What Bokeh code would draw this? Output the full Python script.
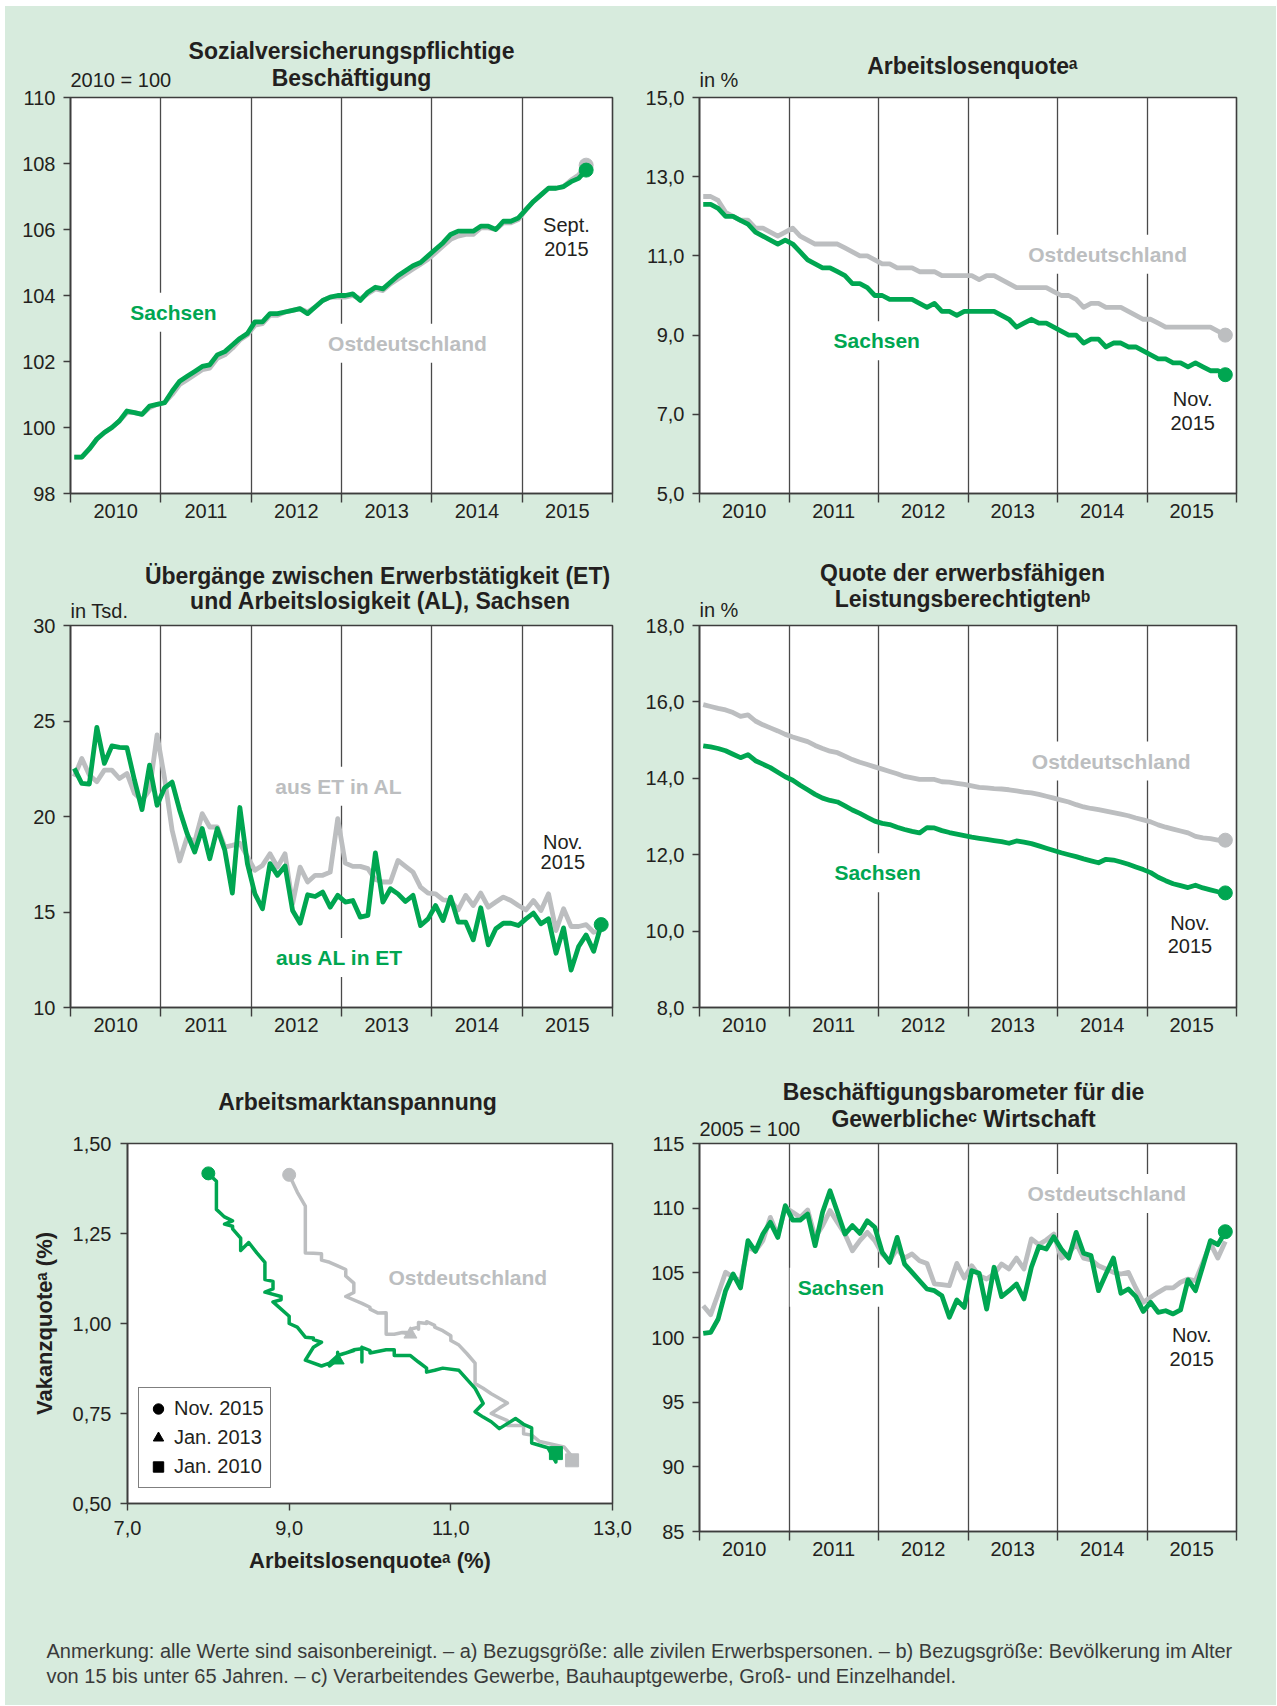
import pandas as pd
from bokeh.plotting import figure
from bokeh.models import (Range1d, FixedTicker, Label, Legend, LegendItem,
                          CustomJSTickFormatter)
from bokeh.layouts import column, row
from bokeh.embed import file_html
from bokeh.resources import INLINE

# ---------------------------------------------------------------- data
years = [2010, 2011, 2012, 2013, 2014, 2015]

# Sozialversicherungspflichtige Beschaeftigung, 2010 = 100 (Jan 2010 - Sep 2015)
besch_sachsen = [99.1, 99.1, 99.35, 99.65, 99.85, 100.0, 100.2, 100.5, 100.45, 100.4,
                 100.65, 100.7, 100.75, 101.1, 101.4, 101.55, 101.7, 101.85, 101.9, 102.2,
                 102.3, 102.5, 102.7, 102.85, 103.2, 103.2, 103.45, 103.45, 103.5, 103.55,
                 103.6, 103.45, 103.65, 103.85, 103.95, 104.0, 104.0, 104.05, 103.85, 104.1,
                 104.25, 104.2, 104.4, 104.6, 104.75, 104.9, 105.0, 105.2, 105.4, 105.6,
                 105.85, 105.95, 105.95, 105.95, 106.1, 106.1, 106.0, 106.25, 106.25, 106.35,
                 106.6, 106.85, 107.05, 107.25, 107.25, 107.3, 107.45, 107.55, 107.8]
besch_ost = [99.1, 99.1, 99.35, 99.65, 99.85, 100.0, 100.2, 100.45, 100.45, 100.4,
             100.6, 100.7, 100.75, 101.0, 101.3, 101.45, 101.6, 101.75, 101.8, 102.1,
             102.2, 102.4, 102.65, 102.8, 103.1, 103.15, 103.4, 103.4, 103.5, 103.55,
             103.6, 103.5, 103.65, 103.85, 103.95, 103.95, 103.95, 104.0, 103.9, 104.05,
             104.2, 104.15, 104.35, 104.5, 104.65, 104.8, 104.95, 105.1, 105.3, 105.5,
             105.7, 105.8, 105.85, 105.85, 106.05, 106.05, 106.0, 106.2, 106.2, 106.3,
             106.6, 106.85, 107.05, 107.25, 107.25, 107.3, 107.5, 107.65, 107.95]

# Arbeitslosenquote in % (Jan 2010 - Nov 2015)
alq_sachsen = [12.3, 12.3, 12.2, 12.0, 12.0, 11.9, 11.8, 11.6, 11.5, 11.4,
               11.3, 11.4, 11.3, 11.1, 10.9, 10.8, 10.7, 10.7, 10.6, 10.5,
               10.3, 10.3, 10.2, 10.0, 10.0, 9.9, 9.9, 9.9, 9.9, 9.8,
               9.7, 9.8, 9.6, 9.6, 9.5, 9.6, 9.6, 9.6, 9.6, 9.6,
               9.5, 9.4, 9.2, 9.3, 9.4, 9.3, 9.3, 9.2, 9.1, 9.0,
               9.0, 8.8, 8.9, 8.9, 8.7, 8.8, 8.8, 8.7, 8.7, 8.6,
               8.5, 8.4, 8.4, 8.3, 8.3, 8.2, 8.3, 8.2, 8.1, 8.1, 8.0]
alq_ost = [12.5, 12.5, 12.4, 12.1, 12.0, 11.9, 11.9, 11.7, 11.7, 11.6,
           11.5, 11.6, 11.7, 11.5, 11.4, 11.3, 11.3, 11.3, 11.3, 11.2,
           11.1, 11.0, 11.0, 10.9, 10.8, 10.8, 10.7, 10.7, 10.7, 10.6,
           10.6, 10.6, 10.5, 10.5, 10.5, 10.5, 10.5, 10.4, 10.5, 10.5,
           10.4, 10.3, 10.2, 10.2, 10.2, 10.2, 10.2, 10.1, 10.0, 10.0,
           9.9, 9.7, 9.8, 9.8, 9.7, 9.7, 9.7, 9.6, 9.5, 9.4,
           9.4, 9.3, 9.2, 9.2, 9.2, 9.2, 9.2, 9.2, 9.2, 9.1, 9.0]

# Uebergaenge in Tsd., Sachsen (Jan 2010 - Nov 2015)
aus_al_in_et = [22.52, 21.73, 21.7, 24.67, 22.78, 23.7, 23.62, 23.6, 21.9, 20.36,
                22.69, 20.59, 21.5, 21.8, 20.33, 19.1, 18.14, 19.37, 17.79, 19.37,
                18.23, 15.99, 20.47, 17.53, 15.95, 15.17, 17.53, 16.92, 17.41, 15.08,
                14.41, 15.9, 15.81, 16.04, 15.25, 15.87, 15.52, 15.6, 14.73, 14.82,
                18.09, 15.52, 16.22, 15.95, 15.55, 15.87, 14.29, 14.64, 15.34, 14.55,
                15.78, 14.47, 14.47, 13.54, 15.22, 13.28, 14.12, 14.41, 14.41, 14.29,
                14.64, 14.94, 14.38, 14.64, 12.84, 14.17, 11.96, 13.19, 13.8, 12.94, 14.34]
aus_et_in_al = [22.08, 23.04, 22.17, 21.82, 22.43, 22.43, 21.99, 22.25, 21.2, 20.85,
                21.38, 24.27, 21.99, 19.28, 17.67, 18.93, 18.67, 20.15, 19.45, 19.45,
                18.4, 18.49, 18.6, 17.9, 17.18, 17.44, 18.05, 17.35, 18.05, 15.43,
                17.35, 16.57, 16.92, 16.92, 17.09, 19.89, 17.56, 17.39, 17.39, 17.27,
                16.7, 16.57, 16.57, 17.7, 17.39, 17.09, 16.3, 15.99, 15.95, 15.64,
                15.6, 15.11, 15.87, 15.34, 15.99, 15.25, 15.52, 15.78, 15.6, 15.34,
                15.11, 15.6, 15.08, 15.95, 14.03, 15.17, 14.24, 14.24, 14.34, 13.94, 14.03]

# Quote der erwerbsfaehigen Leistungsberechtigten in % (Jan 2010 - Nov 2015)
elb_sachsen = [14.85, 14.82, 14.78, 14.72, 14.63, 14.54, 14.62, 14.46, 14.37, 14.28,
               14.16, 14.04, 13.95, 13.82, 13.7, 13.58, 13.48, 13.42, 13.38, 13.28,
               13.17, 13.08, 12.98, 12.88, 12.82, 12.79, 12.72, 12.66, 12.61, 12.57,
               12.71, 12.7, 12.63, 12.58, 12.54, 12.5, 12.46, 12.43, 12.4, 12.37,
               12.34, 12.3, 12.36, 12.33, 12.29, 12.23, 12.17, 12.11, 12.05, 12.0,
               11.95, 11.89, 11.84, 11.79, 11.88, 11.86, 11.81, 11.75, 11.68, 11.61,
               11.53, 11.41, 11.32, 11.24, 11.19, 11.14, 11.2, 11.13, 11.08, 11.03, 11.0]
elb_ost = [15.93, 15.88, 15.83, 15.79, 15.72, 15.62, 15.66, 15.5, 15.4, 15.32,
           15.24, 15.15, 15.08, 15.02, 14.96, 14.86, 14.78, 14.71, 14.67, 14.58,
           14.49, 14.42, 14.36, 14.3, 14.24, 14.18, 14.12, 14.05, 14.01, 13.97,
           13.97, 13.97, 13.91, 13.9, 13.87, 13.84, 13.8, 13.76, 13.75, 13.73,
           13.72, 13.7, 13.67, 13.64, 13.62, 13.58, 13.53, 13.48, 13.43, 13.38,
           13.31, 13.25, 13.21, 13.18, 13.14, 13.1, 13.06, 13.02, 12.96, 12.91,
           12.86, 12.78, 12.72, 12.67, 12.62, 12.57, 12.48, 12.44, 12.42, 12.38, 12.38]

# Vakanzquote in % (Jan 2010 - Nov 2015)
vakanz_sachsen = [0.64, 0.615, 0.655, 0.668, 0.71, 0.72, 0.736, 0.708, 0.727, 0.74,
                  0.755, 0.778, 0.82, 0.87, 0.876, 0.87, 0.865, 0.876, 0.893, 0.911,
                  0.911, 0.927, 0.927, 0.918, 0.925, 0.934, 0.893, 0.934, 0.93, 0.927,
                  0.918, 0.925, 0.911, 0.905, 0.882, 0.9, 0.898, 0.915, 0.92, 0.91,
                  0.89, 0.882, 0.898, 0.934, 0.948, 0.955, 0.96, 0.962, 0.99, 1.0,
                  1.02, 1.06, 1.066, 1.075, 1.087, 1.096, 1.117, 1.122, 1.17, 1.196,
                  1.225, 1.203, 1.237, 1.263, 1.27, 1.276, 1.285, 1.296, 1.317, 1.395, 1.417]
vakanz_ost = [0.62, 0.63, 0.657, 0.672, 0.69, 0.694, 0.717, 0.717, 0.73, 0.74,
              0.75, 0.765, 0.779, 0.805, 0.82, 0.833, 0.86, 0.888, 0.89, 0.916,
              0.94, 0.953, 0.966, 0.98, 0.99, 0.995, 1.005, 1.005, 1.0, 1.003,
              0.984, 0.99, 0.984, 0.975, 0.98, 0.975, 0.97, 0.975, 0.97, 0.975,
              0.975, 0.97, 0.97, 0.988, 1.029, 1.03, 1.03, 1.029, 1.04, 1.045,
              1.056, 1.075, 1.086, 1.112, 1.132, 1.14, 1.15, 1.16, 1.17, 1.176,
              1.194, 1.195, 1.196, 1.22, 1.25, 1.27, 1.29, 1.31, 1.326, 1.365, 1.413]

# Beschaeftigungsbarometer, 2005 = 100 (Jan 2010 - Nov 2015)
baro_sachsen = [100.32, 100.4, 101.43, 103.62, 104.91, 103.83, 107.49, 106.66, 108.0, 108.9,
                107.74, 110.19, 109.08, 109.08, 109.55, 107.1, 109.68, 111.35, 109.68, 108.0,
                108.65, 108.05, 109.03, 108.52, 106.59, 105.81, 107.74, 105.68, 105.04, 104.39,
                103.75, 103.62, 103.23, 101.56, 102.9, 102.33, 105.17, 104.96, 102.2, 105.43,
                103.16, 103.62, 104.14, 102.98, 105.43, 107.03, 106.84, 107.79, 106.84, 106.14,
                108.13, 106.51, 106.33, 103.62, 104.91, 106.14, 103.42, 103.75, 103.16, 102.02,
                102.72, 101.95, 102.07, 101.82, 102.13, 104.45, 103.62, 105.55, 107.49, 107.18, 108.18]
baro_ost = [102.46, 101.77, 103.36, 105.04, 104.65, 104.4, 106.97, 106.7, 107.49, 109.29,
            107.87, 110.06, 109.68, 109.29, 109.86, 107.74, 108.65, 109.81, 108.9, 108.0,
            106.71, 107.49, 108.13, 107.49, 106.46, 105.94, 106.84, 106.14, 106.46, 105.94,
            105.73, 104.14, 104.09, 104.01, 105.73, 104.6, 105.55, 104.78, 104.52, 104.91,
            105.68, 105.3, 106.14, 105.3, 107.62, 107.18, 107.54, 108.0, 106.14, 106.46,
            107.28, 106.14, 105.99, 105.55, 105.3, 105.04, 104.91, 105.04, 103.83, 102.72,
            103.11, 103.49, 103.83, 103.83, 104.27, 104.52, 104.39, 105.81, 107.28, 106.14, 107.43]

# ---------------------------------------------------------------- style
GREEN = "#00a651"
GRAY = "#bcbec0"
BG = "#d7ebdd"
INK = "#231f20"
FRAME = "#3d3d3d"
FONT = "Liberation Sans"
BGSTYLE = {"background-color": BG}
TSIZE = "23px"

months = pd.date_range("2010-01-01", periods=len(alq_sachsen), freq="MS")


def month_pos(n):
    d = months[:n]
    return list(d.year + (d.month - 0.5) / 12.0)


def idx_of(ts):
    return list(months).index(pd.Timestamp(ts))


def style(p):
    p.background_fill_color = "white"
    p.border_fill_color = BG
    p.border_fill_alpha = 0.0
    p.outline_line_color = FRAME
    p.outline_line_width = 1.6
    p.ygrid.visible = False
    for ax in p.axis:
        ax.axis_line_color = FRAME
        ax.axis_line_width = 1.6
        ax.major_tick_line_color = FRAME
        ax.minor_tick_line_color = FRAME
        ax.major_tick_line_width = 1.4
        ax.minor_tick_line_width = 1.4
        ax.major_label_text_font = FONT
        ax.major_label_text_font_size = "20px"
        ax.major_label_text_color = INK
        ax.axis_label_text_font = FONT
        ax.axis_label_text_font_style = "bold"
        ax.axis_label_text_font_size = "22px"
        ax.axis_label_text_color = INK


def make_ts(width, height, borders, overlap, yr, yticks, fmt):
    l, r, t, b = borders
    p = figure(width=width, height=height, x_range=Range1d(2010, 2016),
               y_range=Range1d(*yr), output_backend="svg", toolbar_location=None,
               min_border_left=l, min_border_right=r, min_border_top=t,
               min_border_bottom=b, margin=(-overlap, 0, 0, 0))
    style(p)
    xa = p.xaxis[0]
    xa.ticker = FixedTicker(ticks=[y + 0.5 for y in years],
                            minor_ticks=list(range(2010, 2017)))
    xa.formatter = CustomJSTickFormatter(code="return Math.floor(tick).toFixed(0);")
    xa.major_tick_out = 0
    xa.major_tick_in = 0
    xa.minor_tick_out = 9
    xa.minor_tick_in = 0
    xa.major_label_standoff = 1
    p.xgrid.ticker = FixedTicker(ticks=list(range(2011, 2016)))
    p.xgrid.grid_line_color = "#4a4a4a"
    p.xgrid.grid_line_width = 1.3
    ya = p.yaxis[0]
    ya.ticker = FixedTicker(ticks=yticks)
    ya.formatter = CustomJSTickFormatter(code=fmt)
    ya.major_tick_out = 7
    ya.major_tick_in = 0
    ya.minor_tick_out = 0
    ya.minor_tick_in = 0
    ya.major_label_standoff = 8
    return p


def header(width, height, left=0, right=0):
    h = figure(width=width, height=height, x_range=Range1d(0, 1), y_range=Range1d(0, 1),
               x_axis_type=None, y_axis_type=None, output_backend="svg",
               toolbar_location=None, min_border=0,
               min_border_left=left, min_border_right=right)
    h.background_fill_color = BG
    h.border_fill_color = BG
    h.outline_line_color = None
    return h


def txt(p, x, y, text, color=INK, size="20px", bold=False, align="center",
        units="data", bg=None):
    lab = Label(x=x, y=y, x_units=units, y_units=units, text=text,
                text_color=color, text_font=FONT, text_font_size=size,
                text_font_style="bold" if bold else "normal",
                text_align=align, text_baseline="middle")
    if bg:
        lab.background_fill_color = bg
        lab.padding = 8
    p.add_layout(lab)


FMT0 = "return tick.toFixed(0);"
FMT1 = "return tick.toFixed(1).replace('.', ',');"
FMT2 = "return tick.toFixed(2).replace('.', ',');"

LW = 4.8
DOT = 14
WL, WR = 631, 640  # column widths

# ---------------------------------------------------------------- panel 1
h1 = header(WL, 88, 65, 24)
txt(h1, 281, 44, "Sozialversicherungspflichtige", size=TSIZE, bold=True, units="screen")
txt(h1, 281, 17, "Beschäftigung", size=TSIZE, bold=True, units="screen")
txt(h1, 0, 14.6, "2010 = 100", align="left", units="screen")
p1 = make_ts(WL, 445, (65, 24, 14, 35), 11, (98, 110), [98, 100, 102, 104, 106, 108, 110], FMT0)
x1 = month_pos(len(besch_sachsen))
p1.line(x1, besch_ost, color=GRAY, line_width=LW, line_join="round")
p1.line(x1, besch_sachsen, color=GREEN, line_width=LW, line_join="round")
p1.scatter([x1[-1]], [besch_ost[-1]], size=DOT, color=GRAY)
p1.scatter([x1[-1]], [besch_sachsen[-1]], size=DOT, color=GREEN)
txt(p1, 2011.14, 103.49, "Sachsen", color=GREEN, size="21px", bold=True, bg="white")
txt(p1, 2013.73, 102.55, "Ostdeutschland", color=GRAY, size="21px", bold=True, bg="white")
txt(p1, 2015.49, 106.15, "Sept.")
txt(p1, 2015.49, 105.42, "2015")

# ---------------------------------------------------------------- panel 2
h2 = header(WR, 88, 63, 40)
txt(h2, 273, 29, "Arbeitslosenquoteᵃ", size=TSIZE, bold=True, units="screen")
txt(h2, 0, 14.6, "in %", align="left", units="screen")
p2 = make_ts(WR, 445, (63, 40, 14, 35), 11, (5, 15), [5, 7, 9, 11, 13, 15], FMT1)
x2 = month_pos(len(alq_sachsen))
p2.line(x2, alq_ost, color=GRAY, line_width=LW, line_join="round")
p2.line(x2, alq_sachsen, color=GREEN, line_width=LW, line_join="round")
p2.scatter([x2[-1]], [alq_ost[-1]], size=DOT, color=GRAY)
p2.scatter([x2[-1]], [alq_sachsen[-1]], size=DOT, color=GREEN)
txt(p2, 2014.56, 11.04, "Ostdeutschland", color=GRAY, size="21px", bold=True, bg="white")
txt(p2, 2011.98, 8.86, "Sachsen", color=GREEN, size="21px", bold=True, bg="white")
txt(p2, 2015.51, 7.39, "Nov.")
txt(p2, 2015.51, 6.78, "2015")

# ---------------------------------------------------------------- panel 3
h3 = header(WL, 95, 65, 24)
txt(h3, 307, 48, "Übergänge zwischen Erwerbstätigkeit (ET)", size=TSIZE, bold=True, units="screen")
txt(h3, 310, 23, "und Arbeitslosigkeit (AL), Sachsen", size=TSIZE, bold=True, units="screen")
txt(h3, 0, 13, "in Tsd.", align="left", units="screen")
p3 = make_ts(WL, 447, (65, 24, 14, 51), 12, (10, 30), [10, 15, 20, 25, 30], FMT0)
x3 = month_pos(len(aus_al_in_et))
p3.line(x3, aus_et_in_al, color=GRAY, line_width=LW, line_join="round")
p3.line(x3, aus_al_in_et, color=GREEN, line_width=LW, line_join="round")
p3.scatter([x3[-1]], [aus_al_in_et[-1]], size=DOT, color=GREEN)
txt(p3, 2012.97, 21.59, "aus ET in AL", color=GRAY, size="21px", bold=True, bg="white")
txt(p3, 2012.98, 12.62, "aus AL in ET", color=GREEN, size="21px", bold=True, bg="white")
txt(p3, 2015.45, 18.66, "Nov.")
txt(p3, 2015.45, 17.61, "2015")

# ---------------------------------------------------------------- panel 4
h4 = header(WR, 95, 63, 40)
txt(h4, 263, 51, "Quote der erwerbsfähigen", size=TSIZE, bold=True, units="screen")
txt(h4, 263, 25, "Leistungsberechtigtenᵇ", size=TSIZE, bold=True, units="screen")
txt(h4, 0, 14, "in %", align="left", units="screen")
p4 = make_ts(WR, 447, (63, 40, 14, 51), 12, (8, 18), [8, 10, 12, 14, 16, 18], FMT1)
x4 = month_pos(len(elb_sachsen))
p4.line(x4, elb_ost, color=GRAY, line_width=LW, line_join="round")
p4.line(x4, elb_sachsen, color=GREEN, line_width=LW, line_join="round")
p4.scatter([x4[-1]], [elb_ost[-1]], size=DOT, color=GRAY)
p4.scatter([x4[-1]], [elb_sachsen[-1]], size=DOT, color=GREEN)
txt(p4, 2014.6, 14.45, "Ostdeutschland", color=GRAY, size="21px", bold=True, bg="white")
txt(p4, 2011.99, 11.53, "Sachsen", color=GREEN, size="21px", bold=True, bg="white")
txt(p4, 2015.48, 10.22, "Nov.")
txt(p4, 2015.48, 9.61, "2015")

# ---------------------------------------------------------------- panel 5
h5 = header(WL, 83, 122, 24)
txt(h5, 230, 40, "Arbeitsmarktanspannung", size=TSIZE, bold=True, units="screen")
p5 = figure(width=WL, height=461, x_range=Range1d(7, 13), y_range=Range1d(0.5, 1.5),
            output_backend="svg", toolbar_location=None,
            min_border_left=122, min_border_right=24, min_border_top=14,
            min_border_bottom=87, margin=(-12, 0, 0, 0))
style(p5)
p5.xgrid.visible = False
p5.xaxis.ticker = FixedTicker(ticks=[7, 9, 11, 13])
p5.xaxis.formatter = CustomJSTickFormatter(code=FMT1)
p5.yaxis.ticker = FixedTicker(ticks=[0.5, 0.75, 1.0, 1.25, 1.5])
p5.yaxis.formatter = CustomJSTickFormatter(code=FMT2)
for ax in p5.axis:
    ax.major_tick_out = 7
    ax.major_tick_in = 0
    ax.minor_tick_out = 0
    ax.minor_tick_in = 0
p5.xaxis.major_label_standoff = 10
p5.yaxis.major_label_standoff = 9
p5.xaxis.axis_label = "Arbeitslosenquoteᵃ (%)"
p5.yaxis.axis_label = "Vakanzquoteᵃ (%)"
p5.xaxis.axis_label_standoff = 10
p5.yaxis.axis_label_standoff = 13
i_start = idx_of("2010-01-01")
i_mid = idx_of("2013-01-01")
i_end = idx_of("2015-11-01")
p5.line(alq_ost, vakanz_ost, color=GRAY, line_width=3.5, line_join="round")
p5.line(alq_sachsen, vakanz_sachsen, color=GREEN, line_width=3.5, line_join="round")
for xs, ys, c in ((alq_ost, vakanz_ost, GRAY), (alq_sachsen, vakanz_sachsen, GREEN)):
    p5.scatter([xs[i_end]], [ys[i_end]], marker="circle", size=13, color=c)
    p5.scatter([xs[i_mid]], [ys[i_mid]], marker="triangle", size=13, color=c)
    p5.scatter([xs[i_start]], [ys[i_start]], marker="square", size=13, color=c)
txt(p5, 11.21, 1.128, "Ostdeutschland", color=GRAY, size="21px", bold=True)
nan = float("nan")
r_c = p5.scatter([nan], [nan], marker="circle", size=12, color="black")
r_t = p5.scatter([nan], [nan], marker="triangle", size=12, color="black")
r_s = p5.scatter([nan], [nan], marker="square", size=12, color="black")
leg = Legend(items=[LegendItem(label="Nov. 2015", renderers=[r_c]),
                    LegendItem(label="Jan. 2013", renderers=[r_t]),
                    LegendItem(label="Jan. 2010", renderers=[r_s])],
             location=(11, 15))
leg.glyph_width = 26
leg.glyph_height = 29
leg.label_height = 29
leg.label_standoff = 3
leg.spacing = 0
leg.padding = 6
leg.margin = 0
leg.label_text_font = FONT
leg.label_text_font_size = "20px"
leg.label_text_color = INK
leg.border_line_color = "black"
leg.border_line_width = 1.5
leg.background_fill_color = "white"
leg.background_fill_alpha = 1.0
p5.add_layout(leg)

# ---------------------------------------------------------------- panel 6
h6 = header(WR, 83, 63, 40)
txt(h6, 264, 50, "Beschäftigungsbarometer für die", size=TSIZE, bold=True, units="screen")
txt(h6, 264, 22.4, "Gewerblicheᶜ Wirtschaft", size=TSIZE, bold=True, units="screen")
txt(h6, 0, 13, "2005 = 100", align="left", units="screen")
p6 = make_ts(WR, 461, (63, 40, 14, 59), 12, (85, 115), [85, 90, 95, 100, 105, 110, 115], FMT0)
x6 = month_pos(len(baro_sachsen))
p6.line(x6, baro_ost, color=GRAY, line_width=LW, line_join="round")
p6.line(x6, baro_sachsen, color=GREEN, line_width=LW, line_join="round")
p6.scatter([x6[-1]], [baro_sachsen[-1]], size=DOT, color=GREEN)
txt(p6, 2014.55, 111.13, "Ostdeutschland", color=GRAY, size="21px", bold=True, bg="white")
txt(p6, 2011.58, 103.88, "Sachsen", color=GREEN, size="21px", bold=True, bg="white")
txt(p6, 2015.5, 100.22, "Nov.")
txt(p6, 2015.5, 98.34, "2015")

# ---------------------------------------------------------------- footnote
pf = header(WL + WR, 115)
note1 = ("Anmerkung: alle Werte sind saisonbereinigt. – a) Bezugsgröße: alle zivilen "
         "Erwerbspersonen. –  b) Bezugsgröße:  Bevölkerung im Alter")
note2 = ("von 15 bis unter 65 Jahren.  – c) Verarbeitendes Gewerbe, Bauhauptgewerbe, "
         "Groß- und Einzelhandel.")
txt(pf, 41, 55, note1, color="#3a3a3a", size="20px", align="left", units="screen")
txt(pf, 41, 30, note2, color="#3a3a3a", size="20px", align="left", units="screen")


def cell(h, p):
    return column(h, p, styles=BGSTYLE)


layout = column(
    row(cell(h1, p1), cell(h2, p2), styles=BGSTYLE),
    row(cell(h3, p3), cell(h4, p4), styles=BGSTYLE),
    row(cell(h5, p5), cell(h6, p6), styles=BGSTYLE),
    pf,
    styles=BGSTYLE, margin=(6, 0, 0, 5))
open("out.html", "w").write(file_html(layout, INLINE))
